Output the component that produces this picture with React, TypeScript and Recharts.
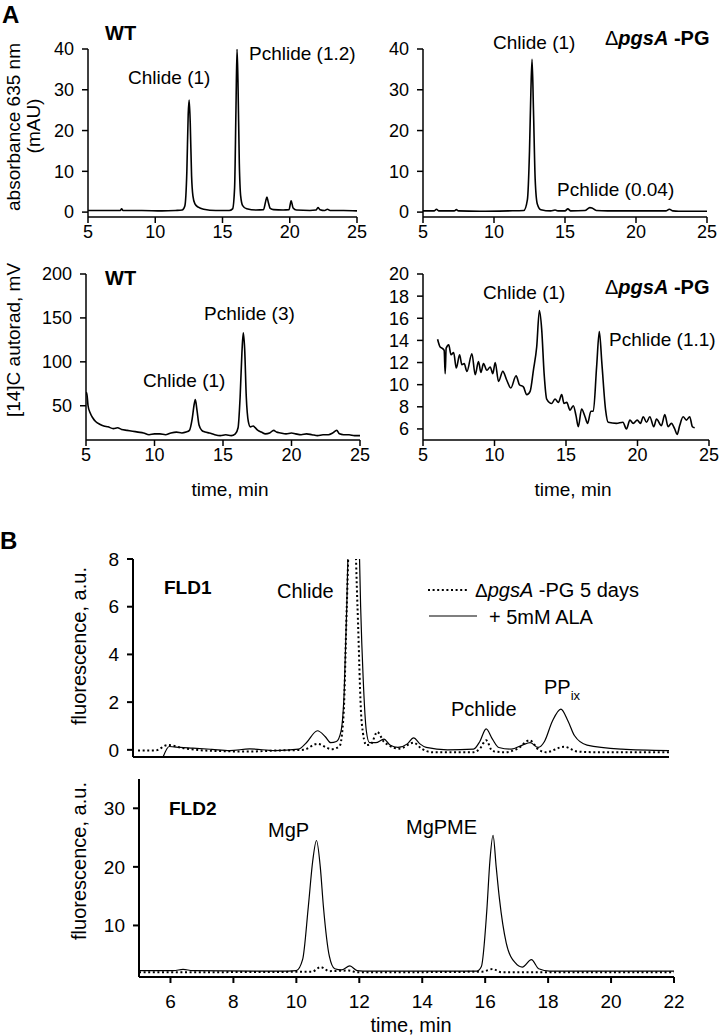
import { LineChart, Line, XAxis, YAxis } from 'recharts'

const FONT = '"Liberation Sans", Arial, Helvetica, sans-serif'

// A, top left: WT absorbance 635 nm
const wtAbsTime = [5, 6, 7.4, 7.5, 7.6, 9, 10.5, 11.5, 12.0, 12.2, 12.35, 12.45, 12.52, 12.6, 12.7, 12.8, 12.95, 13.2, 13.6, 14.5, 15.5, 15.75, 15.9, 16.0, 16.08, 16.15, 16.25, 16.35, 16.5, 16.8, 17.5, 18.05, 18.2, 18.3, 18.4, 18.55, 18.8, 19.5, 19.95, 20.1, 20.25, 20.5, 21.5, 21.95, 22.1, 22.25, 22.6, 22.8, 23.0, 24, 25]
const wtAbsValue = [0.4, 0.4, 0.4, 0.8, 0.4, 0.4, 0.3, 0.4, 0.5, 1.5, 10, 24, 27.5, 22, 9, 4, 2, 1.2, 0.7, 0.4, 0.4, 0.8, 6, 25, 40, 32, 12, 4, 1.6, 0.8, 0.5, 0.6, 2.5, 3.7, 2.5, 0.9, 0.6, 0.5, 0.6, 2.8, 1, 0.5, 0.4, 0.5, 1.1, 0.6, 0.4, 0.7, 0.4, 0.4, 0.3]

// A, top right: pgsA -PG absorbance
const pgAbsTime = [5, 5.8, 5.95, 6.1, 7.2, 7.35, 7.5, 9, 11, 12.1, 12.35, 12.5, 12.6, 12.68, 12.78, 12.9, 13.05, 13.3, 14, 14.3, 14.5, 15.0, 15.2, 15.4, 16.4, 16.75, 16.9, 17.2, 18, 20, 22.1, 22.35, 22.6, 23, 25]
const pgAbsValue = [0.3, 0.3, 0.7, 0.3, 0.3, 0.6, 0.3, 0.2, 0.3, 0.4, 3, 15, 30, 37.5, 25, 8, 2, 0.6, 0.3, 0.5, 0.3, 0.3, 0.8, 0.3, 0.4, 1.1, 1.0, 0.4, 0.3, 0.3, 0.3, 0.7, 0.3, 0.2, 0.2]

// A, bottom left: WT [14]C autorad
const wtRadTime = [5.0, 5.05, 5.15, 5.3, 5.5, 5.7, 6.0, 6.3, 6.6, 7.0, 7.3, 7.6, 8.0, 8.4, 8.8, 9.2, 9.6, 10.0, 10.4, 10.8, 11.2, 11.6, 12.0, 12.3, 12.55, 12.75, 12.9, 12.98, 13.1, 13.25, 13.45, 13.7, 14.0, 14.4, 14.8, 15.2, 15.6, 15.9, 16.1, 16.25, 16.38, 16.48, 16.58, 16.7, 16.85, 17.0, 17.2, 17.35, 17.55, 17.8, 18.1, 18.4, 18.7, 18.9, 19.2, 19.6, 20.0, 20.3, 20.7, 21.1, 21.5, 21.9, 22.3, 22.7, 23.0, 23.3, 23.5, 23.8, 24.2, 24.6, 25.0]
const wtRadValue = [62, 65, 50, 42, 36, 32, 29, 27, 26, 24, 25, 23, 22, 21, 20, 19, 17, 18, 18, 17, 19, 20, 19, 20, 22, 35, 52, 57, 45, 28, 22, 20, 19, 17, 16, 17, 16, 18, 25, 60, 110, 133, 115, 60, 32, 26, 27, 25, 22, 20, 18, 19, 22, 20, 19, 18, 19, 18, 17, 18, 17, 16, 17, 17, 19, 22, 18, 17, 17, 16, 16]

// A, bottom right: pgsA -PG [14]C autorad
const pgRadTime = [6.02, 6.2, 6.33, 6.48, 6.55, 6.62, 6.8, 6.96, 7.14, 7.33, 7.56, 7.72, 7.88, 8.07, 8.42, 8.65, 8.88, 9.05, 9.23, 9.47, 9.7, 9.88, 10.05, 10.28, 10.58, 10.86, 11.14, 11.51, 11.74, 12.02, 12.26, 12.49, 12.72, 12.95, 13.14, 13.3, 13.47, 13.65, 14.0, 14.23, 14.47, 14.7, 14.86, 15.05, 15.28, 15.51, 15.7, 15.86, 16.09, 16.33, 16.51, 16.74, 16.91, 17.14, 17.33, 17.51, 17.77, 17.95, 18.53, 18.98, 19.23, 19.47, 19.7, 19.98, 20.21, 20.4, 20.63, 20.86, 21.14, 21.33, 21.67, 21.91, 22.14, 22.37, 22.6, 22.77, 22.95, 23.19, 23.42, 23.65, 23.84, 24.0]
const pgRadValue = [14.1, 13.4, 13.3, 13.1, 11.0, 13.3, 13.6, 12.7, 12.9, 11.5, 12.7, 11.8, 11.9, 11.2, 12.8, 10.9, 12.1, 11.1, 11.9, 11.3, 11.6, 11.0, 12.0, 10.3, 11.2, 10.4, 9.7, 10.8, 10.0, 9.8, 9.1, 9.4, 11.3, 13.4, 16.7, 15.0, 11.0, 8.7, 8.3, 8.7, 8.4, 9.1, 8.3, 8.4, 7.7, 8.1, 7.2, 6.2, 7.8, 7.1, 6.5, 7.6, 7.6, 11.6, 14.8, 11.9, 7.7, 6.6, 6.5, 6.6, 6.0, 6.8, 6.5, 6.8, 6.5, 7.1, 6.6, 7.1, 6.2, 6.9, 6.3, 7.3, 6.2, 6.5, 6.0, 5.5, 6.3, 7.1, 6.8, 7.1, 6.2, 6.1]

// B, FLD1
const fld1AlaTime = [5.96, 6.15, 6.5, 6.9, 7.5, 8.07, 8.7, 9.5, 10.25, 10.5, 10.85, 11.1, 11.27, 11.45, 11.6, 11.7, 11.78, 11.85, 12.0, 12.15, 12.22, 12.3, 12.4, 12.5, 12.7, 12.96, 13.15, 13.4, 13.7, 13.9, 14.1, 14.3, 14.97, 15.8, 16.0, 16.2, 16.4, 16.6, 17.0, 17.35, 17.6, 17.85, 18.05, 18.3, 18.57, 18.8, 19.0, 19.4, 20.5, 22]
const fld1AlaValue = [-0.28, 0.14, 0.1, 0.07, 0.02, -0.03, 0.04, -0.03, 0.03, 0.3, 0.8, 0.55, 0.3, 0.35, 0.8, 2.5, 6, 10, 14, 10, 6, 3, 0.8, 0.3, 0.3, 0.45, 0.2, 0.1, 0.25, 0.5, 0.25, 0.1, 0.0, 0.03, 0.35, 0.88, 0.45, 0.1, 0.03, 0.2, 0.3, 0.1, 0.35, 1.2, 1.71, 1.2, 0.6, 0.2, 0.03, -0.03]
const fld1PgTime = [5.16, 5.7, 6.1, 6.6, 7.3, 8.7, 9.5, 10.4, 10.85, 11.3, 11.55, 11.68, 11.78, 11.95, 12.12, 12.25, 12.4, 12.55, 12.75, 12.95, 13.1, 13.45, 13.9, 14.15, 14.5, 15.8, 16.0, 16.2, 16.4, 16.8, 17.2, 17.58, 17.87, 18.1, 18.67, 19.1, 19.7, 22]
const fld1PgValue = [-0.03, -0.03, 0.2, 0.07, -0.03, -0.07, -0.03, 0.0, 0.25, 0.03, 0.15, 1.5, 6, 12, 6, 1.2, 0.2, 0.25, 0.75, 0.35, 0.2, 0.05, 0.3, 0.05, -0.1, -0.1, 0.05, 0.4, -0.05, -0.1, 0.05, 0.4, 0.0, -0.1, 0.13, -0.07, -0.1, -0.1]

// B, FLD2
const fld2AlaTime = [5, 6.1, 6.4, 6.7, 9.5, 10.0, 10.2, 10.38, 10.52, 10.64, 10.76, 10.86, 11.05, 11.22, 11.43, 11.7, 11.93, 12.3, 15.73, 15.88, 16.05, 16.15, 16.25, 16.35, 16.45, 16.67, 16.96, 17.18, 17.47, 17.7, 18.05, 22]
const fld2AlaValue = [2.3, 2.3, 2.5, 2.3, 2.2, 2.3, 4.2, 13.2, 21, 24.5, 20, 13.2, 4.7, 2.6, 2.4, 3.1, 2.3, 2.2, 2.2, 3.0, 12.4, 21, 25.4, 20, 14.7, 7.0, 3.6, 2.9, 4.15, 2.6, 2.2, 2.2]
const fld2PgTime = [5, 10.5, 10.77, 11.05, 11.66, 11.95, 15.9, 16.24, 16.52, 22]
const fld2PgValue = [2.0, 2.1, 2.9, 2.2, 2.3, 2.0, 2.1, 2.55, 2.0, 2.0]

const absTicks = [0, 10, 20, 30, 40]
const wtRadTicks = [50, 100, 150, 200]
const pgRadTicks = [6, 8, 10, 12, 14, 16, 18, 20]
const aTimeTicks = [5, 10, 15, 20, 25]
const fld1Ticks = [0, 2, 4, 6, 8]
const fld2Ticks = [10, 20, 30]
const bTimeTicks = [6, 8, 10, 12, 14, 16, 18, 20, 22]

const zip = (t: number[], v: number[]) => t.map((x, i) => ({ t: x, v: v[i] }))

type Series = { data: { t: number; v: number }[]; dotted?: boolean; width: number }

function Panel(props: {
  x0: number; x1: number; y0: number; y1: number
  xDomain: [number, number]; xTicks: number[]
  yDomain: [number, number]; yTicks: number[]
  series: Series[]
  xLabels?: boolean
  tickFont: number
  axisW: number
  xTickMargin?: number
}) {
  const { x0, x1, y0, y1, series, tickFont, axisW } = props
  const padL = 70, padT = 10, padR = 20, padB = 40
  const w = x1 - x0 + padL + padR
  const h = y1 - y0 + padT + padB
  const tickStyle = { fill: '#000', fontSize: tickFont, fontFamily: FONT }
  const lineStyle = { stroke: '#000', strokeWidth: axisW }
  return (
    <div style={{ position: 'absolute', left: x0 - padL, top: y0 - padT }}>
      <LineChart width={w} height={h} margin={{ top: padT, right: padR, bottom: 0, left: 0 }}>
        <XAxis
          type="number"
          dataKey="t"
          domain={props.xDomain}
          ticks={props.xTicks}
          interval={0}
          allowDataOverflow
          height={padB}
          axisLine={lineStyle}
          tickLine={lineStyle}
          tick={props.xLabels === false ? false : tickStyle}
          tickMargin={props.xTickMargin ?? 2}
        />
        <YAxis
          type="number"
          domain={props.yDomain}
          ticks={props.yTicks}
          interval={0}
          allowDataOverflow
          width={padL}
          axisLine={lineStyle}
          tickLine={lineStyle}
          tick={tickStyle}
          tickMargin={8}
        />
        {series.map((s, i) => (
          <Line
            key={i}
            data={s.data}
            dataKey="v"
            type="monotone"
            dot={false}
            stroke="#000"
            strokeWidth={s.width}
            strokeDasharray={s.dotted ? '2 2.6' : undefined}
            isAnimationActive={false}
          />
        ))}
      </LineChart>
    </div>
  )
}

function Note({ x, y, size = 19, bold, children }: { x: number; y: number; size?: number; bold?: boolean; children: any }) {
  return (
    <div style={{ position: 'absolute', left: x, top: y, transform: 'translateY(-50%)', fontSize: size, lineHeight: 1, fontWeight: bold ? 'bold' : 'normal', whiteSpace: 'nowrap' }}>
      {children}
    </div>
  )
}

function CNote({ x, y, size = 19, rotate, children }: { x: number; y: number; size?: number; rotate?: boolean; children: any }) {
  return (
    <div style={{ position: 'absolute', left: x, top: y, transform: `translate(-50%, -50%)${rotate ? ' rotate(-90deg)' : ''}`, fontSize: size, lineHeight: 1, whiteSpace: 'nowrap' }}>
      {children}
    </div>
  )
}

const Mutant = () => (
  <span style={{ fontWeight: 'bold' }}>
    <span style={{ fontWeight: 'normal' }}>Δ</span>
    <i>pgsA</i> -PG
  </span>
)

export default function App() {
  const aA = 1.6
  return (
    <div style={{ position: 'absolute', left: 0, top: 0, width: 720, height: 1036, background: '#fff', fontFamily: FONT, color: '#000', overflow: 'hidden' }}>
      <Panel x0={88} x1={357} y0={49} y1={217} xDomain={[5, 25]} xTicks={aTimeTicks} yDomain={[-1.2, 40]} yTicks={absTicks} tickFont={18} axisW={1.5}
        series={[{ data: zip(wtAbsTime, wtAbsValue), width: aA }]} />
      <Panel x0={423} x1={707} y0={49} y1={217} xDomain={[5, 25]} xTicks={aTimeTicks} yDomain={[-1.2, 40]} yTicks={absTicks} tickFont={18} axisW={1.5}
        series={[{ data: zip(pgAbsTime, pgAbsValue), width: aA }]} />
      <Panel x0={86} x1={360} y0={274} y1={440} xDomain={[5, 25]} xTicks={aTimeTicks} yDomain={[11, 200]} yTicks={wtRadTicks} tickFont={18} axisW={1.5}
        series={[{ data: zip(wtRadTime, wtRadValue), width: aA }]} />
      <Panel x0={423} x1={709} y0={274} y1={440} xDomain={[5, 25]} xTicks={aTimeTicks} yDomain={[5, 20]} yTicks={pgRadTicks} tickFont={18} axisW={1.5}
        series={[{ data: zip(pgRadTime, pgRadValue), width: aA }]} />
      <Panel x0={132.5} x1={668.5} y0={559} y1={757} xDomain={[5, 22]} xTicks={bTimeTicks} yDomain={[-0.3, 8]} yTicks={fld1Ticks} tickFont={19} axisW={2} xLabels={false}
        series={[{ data: zip(fld1PgTime, fld1PgValue), dotted: true, width: 2 }, { data: zip(fld1AlaTime, fld1AlaValue), width: 1.2 }]} />
      <Panel x0={139} x1={674} y0={779} y1={977} xDomain={[5, 22]} xTicks={bTimeTicks} yDomain={[1.2, 35]} yTicks={fld2Ticks} tickFont={19} axisW={2} xTickMargin={12}
        series={[{ data: zip(fld2PgTime, fld2PgValue), dotted: true, width: 2 }, { data: zip(fld2AlaTime, fld2AlaValue), width: 1.2 }]} />

      {/* panel A texts */}
      <Note x={2} y={15} size={24} bold>A</Note>
      <Note x={105} y={33} size={20} bold>WT</Note>
      <CNote x={13} y={127} rotate>absorbance 635 nm</CNote>
      <CNote x={33} y={126} rotate>(mAU)</CNote>
      <Note x={128} y={77}>Chlide (1)</Note>
      <Note x={249} y={53}>Pchlide (1.2)</Note>
      <Note x={493} y={42}>Chlide (1)</Note>
      <Note x={605} y={38} size={20}><Mutant /></Note>
      <Note x={557} y={189}>Pchlide (0.04)</Note>

      <CNote x={13} y={340} rotate>[14]C autorad, mV</CNote>
      <Note x={105} y={278} size={20} bold>WT</Note>
      <Note x={143} y={380}>Chlide (1)</Note>
      <Note x={204} y={313}>Pchlide (3)</Note>
      <CNote x={230} y={489}>time, min</CNote>
      <Note x={483} y={292}>Chlide (1)</Note>
      <Note x={605} y={287} size={20}><Mutant /></Note>
      <Note x={609} y={339}>Pchlide (1.1)</Note>
      <CNote x={573} y={489}>time, min</CNote>

      {/* panel B texts */}
      <Note x={0} y={541} size={24} bold>B</Note>
      <CNote x={79} y={646} size={20} rotate>fluorescence, a.u.</CNote>
      <Note x={164} y={587} bold>FLD1</Note>
      <Note x={277} y={591} size={20}>Chlide</Note>
      <svg style={{ position: 'absolute', left: 426, top: 580 }} width={56} height={44}>
        <line x1={2} y1={10} x2={43} y2={10} stroke="#000" strokeWidth={2} strokeDasharray="2 2.6" />
        <line x1={3} y1={36} x2={51} y2={36} stroke="#000" strokeWidth={1.2} />
      </svg>
      <Note x={475} y={590} size={20}><span style={{ fontSize: 19 }}>Δ</span><i>pgsA</i> -PG 5 days</Note>
      <Note x={489} y={617} size={20}>+ 5mM ALA</Note>
      <Note x={451} y={709} size={20}>Pchlide</Note>
      <Note x={544} y={689} size={20}>PP<sub style={{ fontSize: 13, verticalAlign: -6 }}>ix</sub></Note>

      <CNote x={79} y={861} size={20} rotate>fluorescence, a.u.</CNote>
      <Note x={169} y={808} bold>FLD2</Note>
      <Note x={268} y={830} size={20}>MgP</Note>
      <Note x={406} y={827} size={20}>MgPME</Note>
      <CNote x={411} y={1025} size={20}>time, min</CNote>
    </div>
  )
}
